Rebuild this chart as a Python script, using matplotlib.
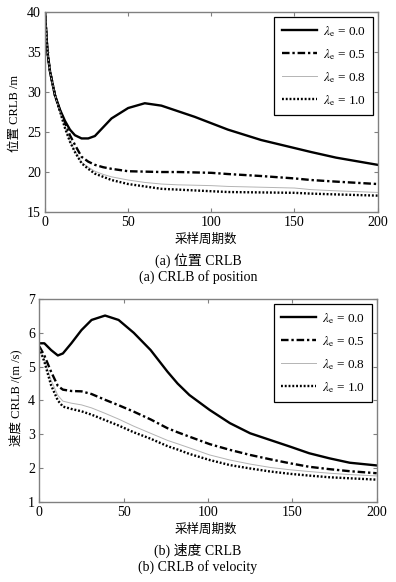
import numpy as np
import matplotlib
matplotlib.use("Agg")
import matplotlib.pyplot as plt

plt.rcParams['font.family'] = ['Liberation Serif', 'Noto Sans CJK SC']
plt.rcParams['mathtext.fontset'] = 'stix'

# (a) position CRLB
x_pos = [0, 1.5, 3, 6, 9, 12, 15, 18, 22, 26, 30, 35, 40, 50, 60, 70, 80, 90,
         100, 110, 130, 150, 160, 175, 200]
pos_00 = [40, 35, 32.6, 29.6, 27.8, 26.4, 25.3, 24.6, 24.2, 24.2, 24.5, 25.6, 26.7,
          28.0, 28.6, 28.3, 27.6, 26.9, 26.1, 25.3, 24.0, 23.0, 22.5, 21.8, 20.9]
pos_05 = [40, 35, 32.6, 29.6, 27.7, 26.1, 24.6, 23.4, 21.9, 21.3, 20.9, 20.6, 20.4,
          20.1, 20.05, 20.0, 20.0, 19.95, 19.9, 19.75, 19.5, 19.2, 19.0, 18.8, 18.5]
pos_08 = [40, 35, 32.6, 29.6, 27.6, 25.6, 23.9, 22.6, 21.2, 20.6, 20.1, 19.7, 19.4,
          19.0, 18.7, 18.5, 18.4, 18.35, 18.3, 18.2, 18.1, 18.0, 17.8, 17.65, 17.45]
pos_10 = [40, 35, 32.6, 29.6, 27.6, 25.5, 23.8, 22.5, 21.1, 20.4, 19.8, 19.4, 19.0,
          18.5, 18.2, 17.9, 17.8, 17.7, 17.6, 17.5, 17.45, 17.4, 17.3, 17.2, 17.05]

# (b) velocity CRLB
x_vel = [0, 3, 7, 11, 14, 19, 25, 31, 39, 47, 56, 66, 76, 82, 89, 101, 113, 125,
         137, 149, 160, 172, 184, 200]
vel_00 = [5.69, 5.69, 5.49, 5.33, 5.39, 5.69, 6.08, 6.38, 6.51, 6.38, 6.0, 5.49, 4.85,
          4.5, 4.16, 3.72, 3.33, 3.03, 2.83, 2.63, 2.44, 2.29, 2.16, 2.08]
vel_05 = [5.6, 5.33, 4.85, 4.43, 4.32, 4.28, 4.27, 4.19, 4.02, 3.86, 3.67, 3.44, 3.18,
          3.06, 2.93, 2.71, 2.54, 2.39, 2.26, 2.14, 2.04, 1.97, 1.91, 1.85]
vel_08 = [5.55, 5.2, 4.6, 4.15, 3.98, 3.92, 3.87, 3.78, 3.62, 3.45, 3.24, 3.03, 2.82,
          2.72, 2.6, 2.39, 2.24, 2.12, 2.02, 1.95, 1.9, 1.85, 1.81, 1.77]
vel_10 = [5.55, 5.15, 4.45, 4.0, 3.82, 3.75, 3.68, 3.58, 3.42, 3.26, 3.06, 2.87, 2.65,
          2.55, 2.42, 2.24, 2.09, 1.99, 1.90, 1.83, 1.78, 1.73, 1.70, 1.66]

labels = [r'$\lambda_{\mathrm{e}}$ = 0.0', r'$\lambda_{\mathrm{e}}$ = 0.5',
          r'$\lambda_{\mathrm{e}}$ = 0.8', r'$\lambda_{\mathrm{e}}$ = 1.0']

fig = plt.figure(figsize=(3.96, 5.82), dpi=100)
ax1 = fig.add_axes([0.1136, 0.6357, 0.840, 0.3436])
ax2 = fig.add_axes([0.0992, 0.1375, 0.852, 0.3488])


def draw(ax, x, ys, ylim, yticks):
    ax.plot(x, ys[0], color='black', lw=1.7, label=labels[0])
    ax.plot(x, ys[1], color='black', lw=1.7, dashes=(3.2, 1.2, 1.0, 1.2), label=labels[1])
    ax.plot(x, ys[2], color='#b4b4b4', lw=0.7, label=labels[2])
    ax.plot(x, ys[3], color='black', lw=1.7, dashes=(0.8, 0.8), label=labels[3])
    ax.set_xlim(0, 200)
    ax.set_ylim(*ylim)
    ax.set_xticks([0, 50, 100, 150, 200])
    ax.set_yticks(yticks)
    ax.tick_params(direction='in', top=True, right=True, length=3, width=0.8,
                   color='#808080', labelsize=10, pad=3)
    for sp in ax.spines.values():
        sp.set_color('#808080')
        sp.set_linewidth(1.0)
    leg = ax.legend(loc='upper right', fontsize=9.5, fancybox=False, framealpha=1,
                    edgecolor='black', handlelength=2.7, labelspacing=0.62,
                    borderaxespad=0.35, handletextpad=0.4, borderpad=0.55)
    leg.get_frame().set_linewidth(0.9)


draw(ax1, x_pos, [pos_00, pos_05, pos_08, pos_10], (15, 40), [15, 20, 25, 30, 35, 40])
draw(ax2, x_vel, [vel_00, vel_05, vel_08, vel_10], (1, 7), [1, 2, 3, 4, 5, 6, 7])

fig.text(0.038, 0.805, '位置 CRLB /m', rotation=90, ha='center', va='center', fontsize=9)
fig.text(0.52, 0.5876, '采样周期数', ha='center', va='center', fontsize=9)
fig.text(0.5, 0.5515, '(a) 位置 CRLB', ha='center', va='center', fontsize=10)
fig.text(0.5, 0.5241, '(a) CRLB of position', ha='center', va='center', fontsize=10)

fig.text(0.038, 0.316, '速度 CRLB /(m /s)', rotation=90, ha='center', va='center', fontsize=9)
fig.text(0.52, 0.0893, '采样周期数', ha='center', va='center', fontsize=9)
fig.text(0.5, 0.0550, '(b) 速度 CRLB', ha='center', va='center', fontsize=10)
fig.text(0.5, 0.0258, '(b) CRLB of velocity', ha='center', va='center', fontsize=10)

fig.savefig('out.png', dpi=100)
